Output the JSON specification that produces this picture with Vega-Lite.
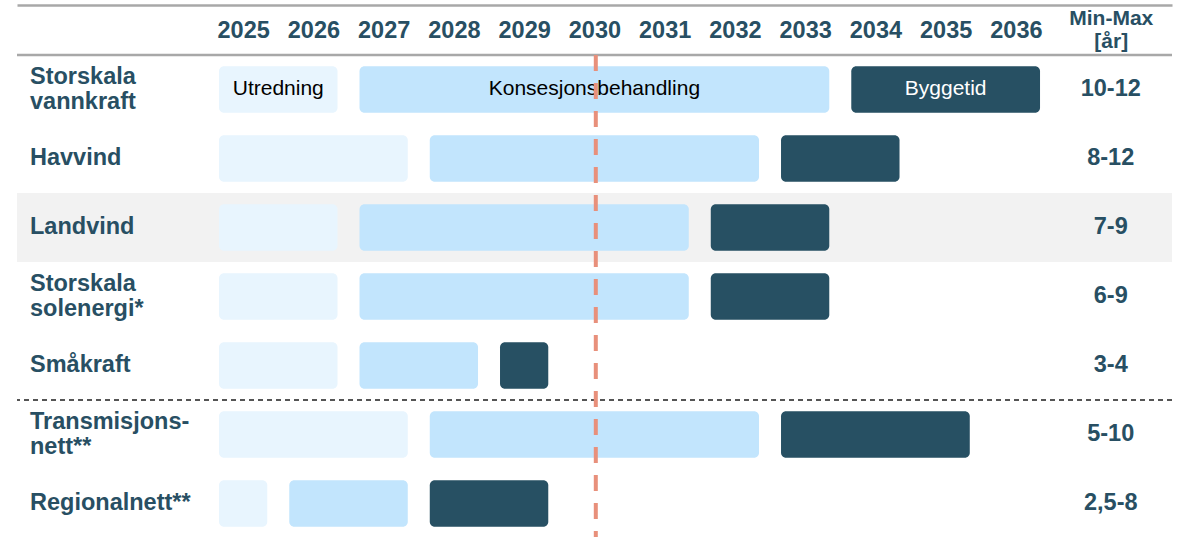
{
  "$schema": "https://vega.github.io/schema/vega-lite/v6.json",
  "width": 1155,
  "height": 533,
  "autosize": {"type": "none"},
  "padding": {"left": 17, "top": 5, "right": 12, "bottom": 0},
  "background": "white",
  "config": {
    "view": {"stroke": null},
    "font": "Liberation Sans",
    "axis": {"labelFont": "Liberation Sans"},
    "text": {"font": "Liberation Sans"}
  },
  "datasets": {
    "bars": [
      {"category": "Storskala vannkraft", "phase": "Utredning", "start": 2025, "end": 2027},
      {"category": "Storskala vannkraft", "phase": "Konsesjonsbehandling", "start": 2027, "end": 2034},
      {"category": "Storskala vannkraft", "phase": "Byggetid", "start": 2034, "end": 2037},
      {"category": "Havvind", "phase": "Utredning", "start": 2025, "end": 2028},
      {"category": "Havvind", "phase": "Konsesjonsbehandling", "start": 2028, "end": 2033},
      {"category": "Havvind", "phase": "Byggetid", "start": 2033, "end": 2035},
      {"category": "Landvind", "phase": "Utredning", "start": 2025, "end": 2027},
      {"category": "Landvind", "phase": "Konsesjonsbehandling", "start": 2027, "end": 2032},
      {"category": "Landvind", "phase": "Byggetid", "start": 2032, "end": 2034},
      {"category": "Storskala solenergi*", "phase": "Utredning", "start": 2025, "end": 2027},
      {"category": "Storskala solenergi*", "phase": "Konsesjonsbehandling", "start": 2027, "end": 2032},
      {"category": "Storskala solenergi*", "phase": "Byggetid", "start": 2032, "end": 2034},
      {"category": "Småkraft", "phase": "Utredning", "start": 2025, "end": 2027},
      {"category": "Småkraft", "phase": "Konsesjonsbehandling", "start": 2027, "end": 2029},
      {"category": "Småkraft", "phase": "Byggetid", "start": 2029, "end": 2030},
      {"category": "Transmisjonsnett**", "phase": "Utredning", "start": 2025, "end": 2028},
      {"category": "Transmisjonsnett**", "phase": "Konsesjonsbehandling", "start": 2028, "end": 2033},
      {"category": "Transmisjonsnett**", "phase": "Byggetid", "start": 2033, "end": 2036},
      {"category": "Regionalnett**", "phase": "Utredning", "start": 2025, "end": 2026},
      {"category": "Regionalnett**", "phase": "Konsesjonsbehandling", "start": 2026, "end": 2028},
      {"category": "Regionalnett**", "phase": "Byggetid", "start": 2028, "end": 2030}
    ],
    "minmax": [
      {"category": "Storskala vannkraft", "range": "10-12"},
      {"category": "Havvind", "range": "8-12"},
      {"category": "Landvind", "range": "7-9"},
      {"category": "Storskala solenergi*", "range": "6-9"},
      {"category": "Småkraft", "range": "3-4"},
      {"category": "Transmisjonsnett**", "range": "5-10"},
      {"category": "Regionalnett**", "range": "2,5-8"}
    ]
  },
  "layer": [
    {
      "data": {"values": [{}]},
      "mark": {"type": "rect", "color": "#f2f2f2"},
      "encoding": {
        "x": {"datum": 2022.281, "type": "quantitative"},
        "x2": {"datum": 2038.722},
        "y": {"datum": "Landvind", "type": "nominal",
              "scale": {"domain": ["Storskala vannkraft", "Havvind", "Landvind", "Storskala solenergi*", "Småkraft", "Transmisjonsnett**", "Regionalnett**"]}}
      }
    },
    {
      "data": {"name": "bars"},
      "mark": {"type": "bar", "cornerRadius": 5, "height": {"band": 0.677}, "xOffset": 11, "x2Offset": -11},
      "encoding": {
        "x": {
          "field": "start", "type": "quantitative",
          "scale": {"domain": [2022.281, 2038.722], "nice": false, "zero": false},
          "axis": {
            "orient": "top", "title": null,
            "values": [2025.5, 2026.5, 2027.5, 2028.5, 2029.5, 2030.5, 2031.5, 2032.5, 2033.5, 2034.5, 2035.5, 2036.5, 2037.85],
            "labelExpr": "datum.value > 2037 ? ['Min-Max', '[år]'] : '' + floor(datum.value)",
            "labelFontSize": {"condition": {"test": "datum.value > 2037", "value": 21}, "value": 23.5},
            "labelPadding": {"condition": {"test": "datum.value > 2037", "value": -13.5}, "value": -25},
            "labelLineHeight": 23,
            "labelFontWeight": "bold",
            "labelColor": "#284f63",
            "labelBaseline": "middle",
            "labelFlush": false,
            "labelOverlap": false,
            "ticks": false,
            "tickSize": 0,
            "grid": false,
            "domain": true,
            "domainColor": "#a8a8a8",
            "domainWidth": 2.5
          }
        },
        "x2": {"field": "end"},
        "y": {
          "field": "category", "type": "nominal",
          "scale": {
            "domain": ["Storskala vannkraft", "Havvind", "Landvind", "Storskala solenergi*", "Småkraft", "Transmisjonsnett**", "Regionalnett**"],
            "paddingInner": 0, "paddingOuter": 0.3623, "align": 1
          },
          "axis": {
            "orient": "left", "title": null, "domain": false, "ticks": false, "tickSize": 0, "grid": false,
            "labelAlign": "left", "labelBaseline": "middle", "labelPadding": -12.5,
            "labelOffset": {"condition": {"test": "indexof(['Storskala vannkraft', 'Storskala solenergi*', 'Transmisjonsnett**'], datum.value) >= 0", "value": -12.5}, "value": 0},
            "labelFontSize": 23.5, "labelFontWeight": "bold", "labelColor": "#284f63",
            "labelLineHeight": 25, "labelLimit": 0,
            "labelExpr": "datum.value == 'Storskala vannkraft' ? ['Storskala', 'vannkraft'] : datum.value == 'Storskala solenergi*' ? ['Storskala', 'solenergi*'] : datum.value == 'Transmisjonsnett**' ? ['Transmisjons-', 'nett**'] : datum.value"
          }
        },
        "color": {
          "field": "phase", "type": "nominal", "legend": null,
          "scale": {"domain": ["Utredning", "Konsesjonsbehandling", "Byggetid"], "range": ["#e8f5fe", "#c2e5fd", "#275063"]}
        }
      }
    },
    {
      "data": {"name": "bars"},
      "transform": [
        {"filter": "datum.category == 'Storskala vannkraft'"},
        {"fold": ["start", "end"], "as": ["edge", "year"]}
      ],
      "mark": {"type": "text", "fontSize": 21, "align": "center", "baseline": "middle"},
      "encoding": {
        "x": {"aggregate": "mean", "field": "year", "type": "quantitative"},
        "y": {"field": "category", "type": "nominal"},
        "text": {"field": "phase"},
        "color": {"condition": {"test": "datum.phase == 'Byggetid'", "value": "white"}, "value": "black"}
      }
    },
    {
      "data": {"name": "minmax"},
      "mark": {"type": "text", "fontSize": 23.5, "fontWeight": "bold", "align": "center", "baseline": "middle", "color": "#284f63"},
      "encoding": {
        "x": {"datum": 2037.85, "type": "quantitative"},
        "y": {"field": "category", "type": "nominal"},
        "text": {"field": "range"}
      }
    },
    {
      "data": {"values": [{}]},
      "mark": {"type": "rule", "color": "#a8a8a8", "strokeWidth": 2.5},
      "encoding": {
        "y": {"datum": "Storskala vannkraft", "type": "nominal", "bandPosition": 0}
      }
    },
    {
      "data": {"values": [{}]},
      "mark": {"type": "rule", "color": "#555555", "strokeWidth": 2, "strokeDash": [5, 4]},
      "encoding": {
        "y": {"datum": "Transmisjonsnett**", "type": "nominal", "bandPosition": 0}
      }
    },
    {
      "data": {"values": [{}]},
      "mark": {"type": "rule", "color": "#e8907b", "strokeWidth": 4, "strokeDash": [16, 12]},
      "encoding": {
        "x": {"datum": 2030.52, "type": "quantitative"},
        "y": {"datum": "Storskala vannkraft", "type": "nominal", "bandPosition": 0},
        "y2": {"value": "height"}
      }
    }
  ]
}
